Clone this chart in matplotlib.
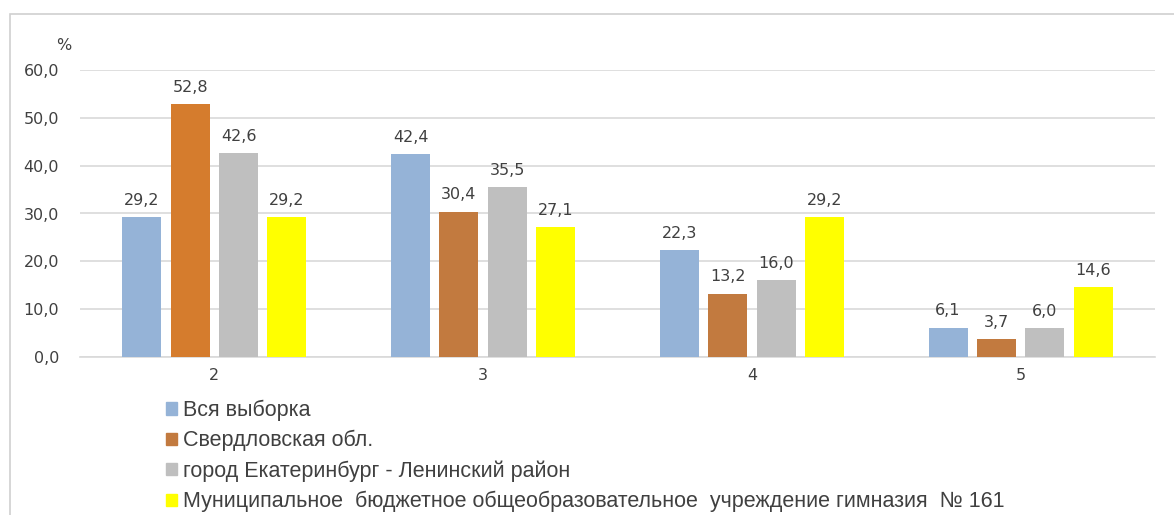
import matplotlib
matplotlib.use("Agg")
import matplotlib.pyplot as plt
import numpy as np
from matplotlib.patches import Rectangle

categories = ["2", "3", "4", "5"]
series_names = ["Вся выборка", "Свердловская обл.", "город Екатеринбург - Ленинский район",
                "Муниципальное  бюджетное общеобразовательное  учреждение гимназия  № 161"]
vsya = [29.2, 42.4, 22.3, 6.1]
sverd = [52.8, 30.4, 13.2, 3.7]
gorod = [42.6, 35.5, 16.0, 6.0]
gimn = [29.2, 27.1, 29.2, 14.6]
values = [vsya, sverd, gorod, gimn]
yticks = [0, 10, 20, 30, 40, 50, 60]

colors = ["#95B3D7", "#C27A3F", "#BFBFBF", "#FFFF00"]
first_orange = "#D57C2D"

W, H = 1174, 515
fig = plt.figure(figsize=(W/100, H/100), dpi=100)
fig.patch.set_facecolor("white")
fig.patches.append(Rectangle((10/W, -0.01), 1.2, 1 - 14/H + 0.01, transform=fig.transFigure,
                             fill=False, edgecolor="#D0D0D0", linewidth=1.2))

ax = fig.add_axes([80/W, 1 - 357/H, (1155-80)/W, (357-70)/H])
x = np.arange(len(categories))
step = 0.18
bw = 0.145
for i, (name, vals) in enumerate(zip(series_names, values)):
    cols = [colors[i]] * len(vals)
    if i == 1:
        cols[0] = first_orange
    bars = ax.bar(x + (i - 1.5) * step, vals, width=bw, color=cols, label=name, zorder=3)
    for b, v in zip(bars, vals):
        ax.text(b.get_x() + b.get_width()/2, v + 2.0, f"{v:.1f}".replace(".", ","),
                ha="center", va="bottom", fontsize=11.5, color="#404040", family="DejaVu Sans")

ax.set_xlim(-0.5, 3.5)
ax.set_ylim(0, 60)
ax.set_yticks(yticks)
ax.set_yticklabels([f"{t:.1f}".replace(".", ",") for t in yticks], fontsize=11.5, color="#404040",
                   family="DejaVu Sans")
ax.set_xticks(x)
ax.set_xticklabels(categories, fontsize=11.5, color="#404040", family="DejaVu Sans")
ax.tick_params(length=0, pad=8)
ax.tick_params(axis="y", pad=15)
ax.grid(axis="y", color="#D9D9D9", linewidth=1.2, zorder=0)
for s in ["top", "right", "left"]:
    ax.spines[s].set_visible(False)
ax.spines["bottom"].set_color("#D9D9D9")
ax.spines["bottom"].set_linewidth(1.2)
ax.text(-0.008, 1.085, "%", transform=ax.transAxes, ha="right", va="center", fontsize=11.5,
        color="#404040", family="DejaVu Sans")

handles = [Rectangle((0, 0), 1, 1, color=c) for c in colors]
leg = fig.legend(handles, series_names, loc="upper left", bbox_to_anchor=(155/W, 1 - 389/H),
                 frameon=False, handlelength=0.5, handleheight=0.5,
                 handletextpad=0.3, labelspacing=0.42, borderpad=0,
                 prop={"family": ["Liberation Sans", "DejaVu Sans"], "size": 15.5})
for t in leg.get_texts():
    t.set_color("#404040")

fig.savefig("out.png", dpi=100)
